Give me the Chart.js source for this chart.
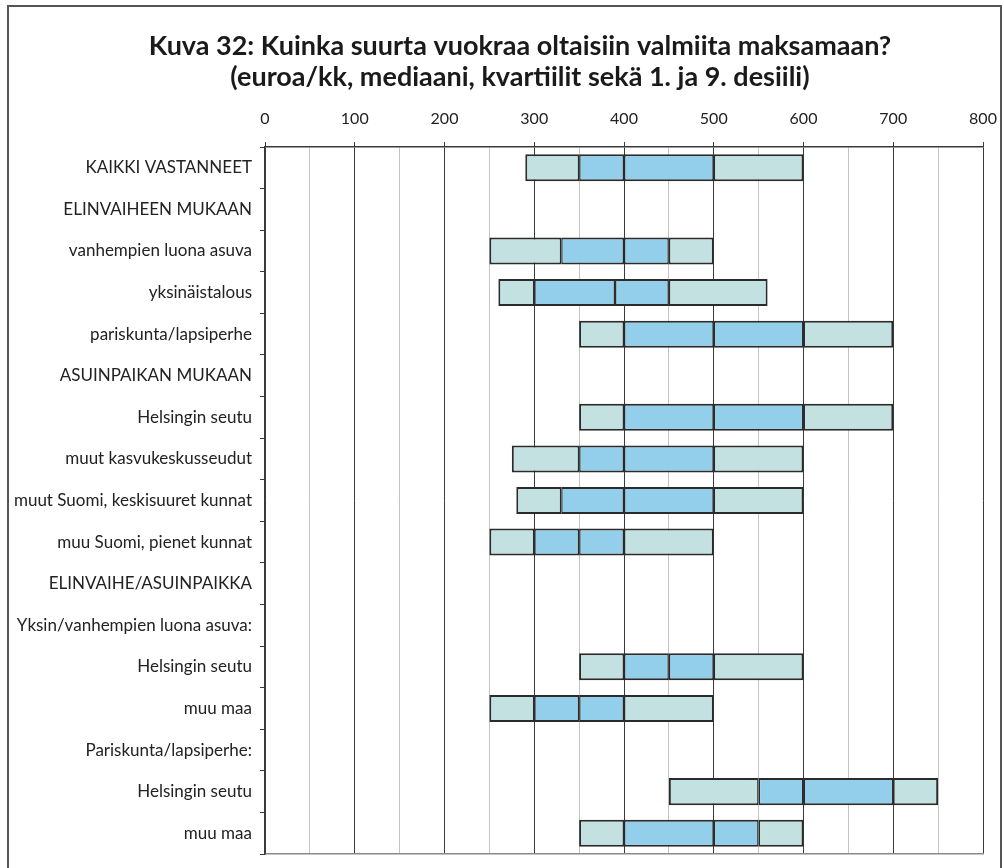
<!DOCTYPE html>
<html>
<head>
<meta charset="utf-8">
<script src="https://cdn.jsdelivr.net/npm/chart.js@4/dist/chart.umd.min.js"></script>
<style>
  html, body { margin: 0; padding: 0; background: #fff; overflow: hidden; }
  #frame {
    position: absolute; left: 7px; top: 5px;
    width: 991px; height: 880px;
    border: 2px solid #555; border-bottom: none;
  }
  #chart { position: absolute; left: 9px; top: 7px; display: block; }
</style>
</head>
<body>
<div id="frame"></div>
<canvas id="chart" width="1022" height="870"></canvas>
<script>
// rivit (kategoriat)
const labels = [
  'KAIKKI VASTANNEET',
  'ELINVAIHEEN MUKAAN',
  'vanhempien luona asuva',
  'yksinäistalous',
  'pariskunta/lapsiperhe',
  'ASUINPAIKAN MUKAAN',
  'Helsingin seutu',
  'muut kasvukeskusseudut',
  'muut Suomi, keskisuuret kunnat',
  'muu Suomi, pienet kunnat',
  'ELINVAIHE/ASUINPAIKKA',
  'Yksin/vanhempien luona asuva:',
  'Helsingin seutu',
  'muu maa',
  'Pariskunta/lapsiperhe:',
  'Helsingin seutu',
  'muu maa'
];

// 1. desiili, kvartiilit, mediaani, 9. desiili (euroa/kk)
const decile1  = [290, null, 250, 260, 350, null, 350, 275, 280, 250, null, null, 350, 250, null, 450, 350];
const quartile1 = [350, null, 330, 300, 400, null, 400, 350, 330, 300, null, null, 400, 300, null, 550, 400];
const median   = [400, null, 400, 390, 500, null, 500, 400, 400, 350, null, null, 450, 350, null, 600, 500];
const quartile3 = [500, null, 450, 450, 600, null, 600, 500, 500, 400, null, null, 500, 400, null, 700, 550];
const decile9  = [600, null, 500, 560, 700, null, 700, 600, 600, 500, null, null, 600, 500, null, 750, 600];

const TEAL = '#c3e1e0';
const BLUE = '#93cfeb';
const EDGE = '#2b2b2b';

function span(from, to) {
  return from.map((v, i) => (v == null ? null : [v, to[i]]));
}

function segment(data, color, left, right) {
  return {
    data: data,
    backgroundColor: color,
    borderColor: EDGE,
    borderWidth: { top: 2, bottom: 2, left: left, right: right },
    borderSkipped: false,
    grouped: false,
    barPercentage: 0.65,
    categoryPercentage: 1
  };
}

const fontFamily = 'Lato, "Open Sans", sans-serif';

new Chart(document.getElementById('chart'), {
  type: 'bar',
  data: {
    labels: labels,
    datasets: [
      segment(span(decile1, quartile1), TEAL, 2, 1.5),
      segment(span(quartile1, median), BLUE, 1.5, 1.5),
      segment(span(median, quartile3), BLUE, 1.5, 1.5),
      segment(span(quartile3, decile9), TEAL, 1.5, 2)
    ]
  },
  options: {
    indexAxis: 'y',
    responsive: false,
    animation: false,
    layout: { padding: { left: 0, right: 0, top: 0, bottom: 23 } },
    plugins: {
      legend: { display: false },
      tooltip: { enabled: false },
      title: {
        display: true,
        text: [
          'Kuva 32: Kuinka suurta vuokraa oltaisiin valmiita maksamaan?',
          '(euroa/kk, mediaani, kvartiilit sekä 1. ja 9. desiili)'
        ],
        color: '#1a1a1a',
        font: { family: fontFamily, size: 27, weight: 'bold', lineHeight: '31px' },
        padding: { top: 24, bottom: 0 }
      }
    },
    scales: {
      x: {
        position: 'top',
        min: 0,
        max: 800,
        afterFit: (scale) => { scale.height = 54; },
        ticks: {
          stepSize: 50,
          autoSkip: false,
          maxRotation: 0,
          padding: 14,
          color: '#222',
          font: { family: fontFamily, size: 16 },
          callback: (v) => (v % 100 === 0 ? v : '')
        },
        grid: {
          color: (ctx) => (ctx.tick && ctx.tick.value % 100 === 0 ? '#3a3a3a' : '#c4c4c4'),
          tickColor: (ctx) => (ctx.tick && ctx.tick.value % 100 === 0 ? '#3a3a3a' : 'rgba(0,0,0,0)'),
          tickLength: 5,
          lineWidth: 1
        },
        border: { color: '#3a3a3a', width: 1.5 }
      },
      xBottom: {
        position: 'bottom',
        min: 0,
        max: 800,
        afterFit: (scale) => { scale.height = 0; },
        ticks: { display: false },
        grid: { display: false, drawTicks: false },
        border: { display: true, color: '#8a8a8a', width: 1.5 }
      },
      y: {
        afterFit: (scale) => { scale.width = 256; },
        ticks: {
          padding: 8,
          color: '#222',
          font: { family: fontFamily, size: 17 }
        },
        grid: {
          drawOnChartArea: false,
          tickLength: 5,
          color: '#3a3a3a'
        },
        border: { color: '#3a3a3a', width: 1.5 }
      },
      // empty right-hand margin so the title centres like the original
      yRight: {
        type: 'category',
        position: 'right',
        afterFit: (scale) => { scale.width = 48; },
        ticks: { display: false },
        grid: { display: false, drawTicks: false },
        border: { display: false }
      }
    }
  }
});
</script>
</body>
</html>
